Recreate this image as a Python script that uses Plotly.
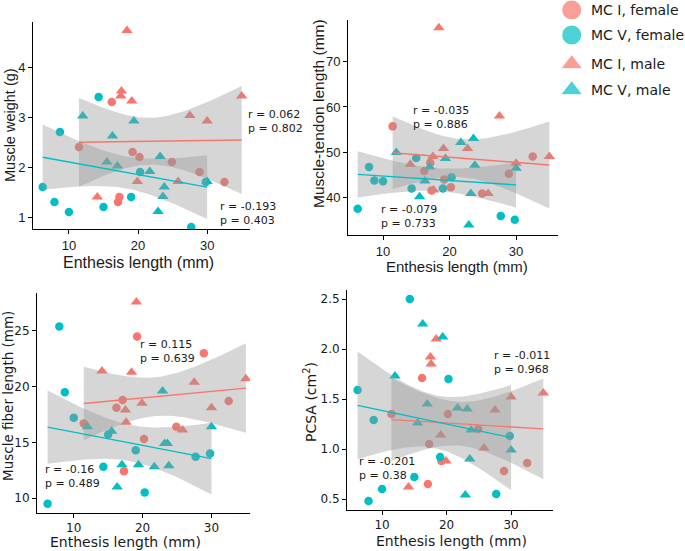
import numpy as np
import plotly.graph_objects as go

SALMON = "#F8766D"
CYAN = "#00BFC4"
BAND = "rgba(153, 153, 153, 0.4)"
INK = "#1a1a1a"
W, H = 685, 551

# enthesis length (mm) per group
enth_mc1_f = [11.45, 16.2, 17.1, 17.3, 19.2, 20.2, 24.9, 28.9, 32.5]
enth_mc5_f = [6.2, 7.9, 8.7, 10.0, 14.3, 15.0, 19.0, 20.3, 27.7, 29.8]
enth_mc1_m = [14.1, 17.5, 17.6, 18.4, 19.1, 19.9, 25.8, 27.5, 30.0, 35.0]
enth_mc5_m = [12.0, 15.5, 16.3, 17.0, 19.4, 21.7, 22.9, 23.2, 23.6, 23.8, 30.0]
# in the tendon plot one MC I male sits at 22.7 mm instead of 19.9
enth_mc1_m_tendon = [14.1, 17.5, 17.6, 18.4, 19.1, 22.7, 25.8, 27.5, 30.0, 35.0]

weight_mc1_f = [2.4, 3.3, 1.3, 1.4, 2.3, 2.2, 2.1, 1.9, 1.7]
weight_mc5_f = [1.6, 1.3, 2.7, 1.1, 3.4, 1.2, 1.4, 1.9, 0.8, 1.7]
weight_mc1_m = [1.4, 3.42, 3.52, 4.73, 3.32, 1.71, 1.71, 3.03, 2.92, 3.42]
weight_mc5_m = [3.02, 2.1, 2.62, 2.02, 2.92, 1.91, 1.11, 2.21, 1.41, 1.6, 1.71]

tendon_mc1_f = [55.7, 45.8, 47.6, 41.5, 43.9, 42.2, 40.8, 45.2, 49.0]
tendon_mc5_f = [37.4, 46.7, 43.7, 43.5, 41.9, 48.7, 41.9, 44.4, 35.8, 35.0]
tendon_mc1_m = [47.3, 49.0, 41.6, 77.6, 50.8, 50.8, 40.8, 58.0, 47.5, 49.0]
tendon_mc5_m = [49.9, 40.1, 43.6, 46.7, 48.6, 52.1, 33.8, 40.8, 53.0, 47.1, 46.4]

fiber_mc1_f = [16.7, 18.1, 18.8, 12.4, 24.5, 15.3, 16.4, 23.0, 18.7]
fiber_mc5_f = [9.5, 25.4, 19.5, 17.2, 12.8, 15.7, 14.3, 10.5, 13.7, 14.0]
fiber_mc1_m = [21.4, 17.9, 16.8, 21.3, 27.6, 18.5, 16.1, 20.4, 18.1, 20.7]
fiber_mc5_m = [16.4, 16.0, 11.0, 13.0, 13.0, 12.8, 19.6, 14.9, 14.9, 12.9, 16.4]

pcsa_mc1_f = [1.35, 1.71, 0.65, 1.05, 0.88, 1.35, 1.20, 0.78, 0.86]
pcsa_mc5_f = [1.59, 0.48, 1.29, 0.60, 2.50, 0.72, 0.92, 1.70, 0.55, 1.13]
pcsa_mc1_m = [0.62, 1.92, 1.85, 2.10, 1.14, 0.88, 1.01, 1.39, 1.52, 1.56]
pcsa_mc5_m = [1.73, 1.26, 2.25, 1.45, 2.12, 1.41, 0.54, 1.40, 0.90, 1.19, 0.99]

stats_mc1 = [("0.062", "0.802"), ("-0.035", "0.886"), ("0.115", "0.639"), ("-0.011", "0.968")]
stats_mc5 = [("-0.193", "0.403"), ("-0.079", "0.733"), ("-0.16", "0.489"), ("-0.201", "0.38")]

legend_labels = ["MC I, female", "MC V, female", "MC I, male", "MC V, male"]
legend_colors = [SALMON, CYAN, SALMON, CYAN]
legend_symbols = ["circle", "circle", "triangle-up", "triangle-up"]

# t quantile (0.975) by degrees of freedom
T975 = {17: 2.110, 19: 2.093}


def fit_band(x, y):
    x = np.asarray(x, float)
    y = np.asarray(y, float)
    n = len(x)
    b, a = np.polyfit(x, y, 1)
    resid = y - (a + b * x)
    s = np.sqrt((resid ** 2).sum() / (n - 2))
    sxx = ((x - x.mean()) ** 2).sum()
    xs = np.linspace(x.min(), x.max(), 80)
    fit = a + b * xs
    se = s * np.sqrt(1 / n + (xs - x.mean()) ** 2 / sxx)
    t = T975[n - 2]
    return xs, fit, fit - t * se, fit + t * se


def label(text, px, py, family, size, angle=0, anchor="center"):
    return dict(
        x=px / W, y=1 - py / H, xref="paper", yref="paper", showarrow=False,
        xanchor=anchor, yanchor="middle", align="left", text=text, textangle=angle,
        font=dict(family=family, size=size, color=INK),
    )


panels = [
    dict(
        y_title="Muscle weight (g)",
        groups=[(enth_mc1_f, weight_mc1_f), (enth_mc5_f, weight_mc5_f),
                (enth_mc1_m, weight_mc1_m), (enth_mc5_m, weight_mc5_m)],
        box=(33, 250, 22, 229), xr=[4.8, 36.2], yr=[0.76, 4.9],
        tickvals=[1, 2, 3, 4], tickformat="d",
        font="Liberation Sans", tick_size=13, xt_size=16, yt_size=14.5,
        xt_pos=(138, 263), yt_pos=(10, 125),
        ann1=(246, 121.5), ann5=(218, 213.5),
    ),
    dict(
        y_title="Muscle-tendon length (mm)",
        groups=[(enth_mc1_f, tendon_mc1_f), (enth_mc5_f, tendon_mc5_f),
                (enth_mc1_m_tendon, tendon_mc1_m), (enth_mc5_m, tendon_mc5_m)],
        box=(348, 558, 20, 235), xr=[4.74, 36.3], yr=[31.6, 79.3],
        tickvals=[40, 50, 60, 70], tickformat="d",
        font="Liberation Sans", tick_size=13, xt_size=15, yt_size=15.5,
        xt_pos=(457, 266), yt_pos=(319, 114),
        ann1=(411, 117.5), ann5=(379, 217),
    ),
    dict(
        y_title="Muscle fiber length (mm)",
        groups=[(enth_mc1_f, fiber_mc1_f), (enth_mc5_f, fiber_mc5_f),
                (enth_mc1_m, fiber_mc1_m), (enth_mc5_m, fiber_mc5_m)],
        box=(37, 250, 293, 513), xr=[4.66, 35.6], yr=[8.66, 28.4],
        tickvals=[10, 15, 20, 25], tickformat="d",
        font="DejaVu Sans", tick_size=12, xt_size=14, yt_size=13.5,
        xt_pos=(125, 542), yt_pos=(8, 396),
        ann1=(138, 351), ann5=(43, 476.5),
    ),
    dict(
        y_title="PCSA (cm<sup>2</sup>)",
        groups=[(enth_mc1_f, pcsa_mc1_f), (enth_mc5_f, pcsa_mc5_f),
                (enth_mc1_m, pcsa_mc1_m), (enth_mc5_m, pcsa_mc5_m)],
        box=(347, 553, 290, 510), xr=[4.56, 36.5], yr=[0.39, 2.59],
        tickvals=[0.5, 1.0, 1.5, 2.0, 2.5], tickformat=".1f",
        font="DejaVu Sans", tick_size=12, xt_size=14, yt_size=14,
        xt_pos=(452, 541), yt_pos=(310, 402),
        ann1=(492, 362.5), ann5=(357, 468),
    ),
]

fig = go.Figure()
layout = dict(
    width=W, height=H, margin=dict(l=0, r=0, t=0, b=0),
    plot_bgcolor="white", paper_bgcolor="white", showlegend=False,
)
annotations = []

for i, p in enumerate(panels):
    k = "" if i == 0 else str(i + 1)
    xa, ya = "x" + k, "y" + k
    colors = [SALMON, CYAN, SALMON, CYAN]
    symbols = ["circle", "circle", "triangle-up", "triangle-up"]
    for (gx, gy), c, s in zip(p["groups"], colors, symbols):
        fig.add_trace(go.Scatter(
            x=gx, y=gy, mode="markers", xaxis=xa, yaxis=ya,
            marker=dict(color=c, symbol=s, size=8.5 if s == "circle" else 10),
        ))
    # pool sexes per bone for the regressions
    fits = []
    for (fx, fy), (mx, my), c in [(p["groups"][0], p["groups"][2], SALMON),
                                  (p["groups"][1], p["groups"][3], CYAN)]:
        fits.append((fit_band(list(fx) + list(mx), list(fy) + list(my)), c))
    for (xs, fit, lo, hi), c in fits:
        fig.add_trace(go.Scatter(
            x=np.concatenate([xs, xs[::-1]]), y=np.concatenate([hi, lo[::-1]]),
            fill="toself", fillcolor=BAND, line=dict(width=0), mode="lines",
            xaxis=xa, yaxis=ya, hoverinfo="skip",
        ))
    for (xs, fit, lo, hi), c in fits:
        fig.add_trace(go.Scatter(
            x=xs, y=fit, mode="lines", line=dict(color=c, width=1.4),
            xaxis=xa, yaxis=ya,
        ))

    x0, x1, y0, y1 = p["box"]
    common = dict(
        showline=True, linecolor="black", linewidth=1, ticks="outside",
        ticklen=4, tickcolor="black", showgrid=False, zeroline=False,
        tickfont=dict(family=p["font"], size=p["tick_size"], color=INK),
    )
    layout["xaxis" + k] = dict(
        common, domain=[x0 / W, x1 / W], range=p["xr"], anchor=ya,
        tickvals=[10, 20, 30],
    )
    layout["yaxis" + k] = dict(
        common, domain=[1 - y1 / H, 1 - y0 / H], range=p["yr"], anchor=xa,
        tickvals=p["tickvals"], tickformat=p["tickformat"],
    )
    annotations.append(label("Enthesis length (mm)", *p["xt_pos"], p["font"], p["xt_size"]))
    annotations.append(label(p["y_title"], *p["yt_pos"], p["font"], p["yt_size"], angle=-90))
    for (r, pv), pos in [(stats_mc1[i], p["ann1"]), (stats_mc5[i], p["ann5"])]:
        annotations.append(label(f"r = {r}<br>p = {pv}", *pos, "DejaVu Sans", 11,
                                 anchor="left"))

# hand-drawn legend in its own axes, top right
legend_rows = [10, 35, 64, 90]
fig.add_trace(go.Scatter(
    x=[23.7] * 4, y=legend_rows, mode="markers", xaxis="x5", yaxis="y5",
    marker=dict(color=legend_colors, symbol=legend_symbols, size=[20, 20, 19, 19]),
))
for name, row in zip(legend_labels, legend_rows):
    annotations.append(label(name, 589, row, "DejaVu Sans", 14, anchor="left"))
layout["xaxis5"] = dict(domain=[548 / W, 1], range=[0, 137], visible=False,
                        showticklabels=False, fixedrange=True)
layout["yaxis5"] = dict(domain=[1 - 100 / H, 1], range=[100, 0], visible=False,
                        showticklabels=False, anchor="x5", fixedrange=True)
layout["annotations"] = annotations

fig.update_layout(**layout)
# drop the default 8px body margin so the figure fills the window exactly
fig.write_html(
    "out.html",
    config={"displayModeBar": False},
    post_script="document.body.style.margin = '0';",
)
